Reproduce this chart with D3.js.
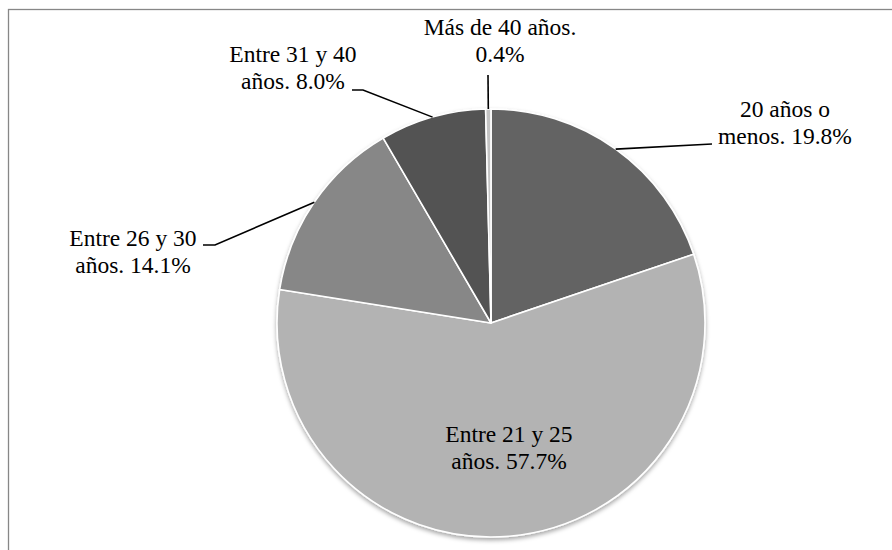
<!DOCTYPE html>
<html>
<head>
<meta charset="utf-8">
<script src="https://cdn.jsdelivr.net/npm/d3@7/dist/d3.min.js"></script>
<style>
  html, body { margin: 0; padding: 0; background: #fff; }
  svg { display: block; }
</style>
</head>
<body>
<svg id="chart" width="892" height="550"></svg>
<script>
// Age groups and their share (%)
const categories = ["20 años o menos", "Entre 21 y 25 años", "Entre 26 y 30 años", "Entre 31 y 40 años", "Más de 40 años"];
const shares = [19.8, 57.7, 14.1, 8.0, 0.4];
// Label text, split into two lines
const labelLines = [
  ["20 años o", "menos. 19.8%"],
  ["Entre 21 y 25", "años. 57.7%"],
  ["Entre 26 y 30", "años. 14.1%"],
  ["Entre 31 y 40", "años. 8.0%"],
  ["Más de 40 años.", "0.4%"]
];
const sliceColors = ["#646464", "#b3b3b3", "#878787", "#525252", "#c4c4c4"];

// Layout
const W = 892, H = 550;
const cx = 491, cy = 323, R = 214;
const fontSize = 23.5, lineGap = 27;
// label anchor (centre x, first baseline y), leader elbow, or null when placed inside the slice
const labelLayout = [
  { x: 785, y: 117, elbow: [[712, 144]] },
  { x: 509, y: 442, elbow: null },
  { x: 133, y: 246, elbow: [[215, 245], [203, 245]] },
  { x: 293, y: 62,  elbow: [[363, 90], [352, 90]] },
  { x: 500, y: 35,  elbow: [[488, 75]] }
];

const svg = d3.select("#chart");

// chart frame
svg.append("rect")
  .attr("x", 8.5).attr("y", 9.5)
  .attr("width", W + 20).attr("height", H + 20)
  .attr("fill", "none").attr("stroke", "#878787").attr("stroke-width", 1.3);

const defs = svg.append("defs");
const shadow = defs.append("filter").attr("id", "pieShadow")
  .attr("x", "-10%").attr("y", "-10%").attr("width", "120%").attr("height", "125%");
shadow.append("feDropShadow")
  .attr("dx", 0).attr("dy", 2.5).attr("stdDeviation", 2.2)
  .attr("flood-color", "#000").attr("flood-opacity", 0.35);

const pie = d3.pie().sort(null).value(d => d)(shares);
const arc = d3.arc().innerRadius(0).outerRadius(R);

const g = svg.append("g").attr("transform", `translate(${cx},${cy})`);

g.append("g").attr("filter", "url(#pieShadow)")
  .selectAll("path")
  .data(pie)
  .join("path")
  .attr("d", arc)
  .attr("fill", (d, i) => sliceColors[i])
  .attr("stroke", "#fff")
  .attr("stroke-width", 1.6)
  .attr("stroke-linejoin", "round");

// leader lines start at the middle of each slice's outer edge
pie.forEach((d, i) => {
  const L = labelLayout[i];
  if (!L.elbow) return;
  const a = (d.startAngle + d.endAngle) / 2;
  const start = [cx + R * Math.sin(a), cy - R * Math.cos(a)];
  const pts = [start].concat(L.elbow);
  svg.append("path")
    .attr("d", d3.line()(pts))
    .attr("fill", "none")
    .attr("stroke", "#000")
    .attr("stroke-width", 1.6);
});

// labels
labelLayout.forEach((L, i) => {
  const t = svg.append("text")
    .attr("text-anchor", "middle")
    .style("font-family", '"Liberation Serif"')
    .style("font-size", fontSize + "px")
    .style("fill", "#000");
  labelLines[i].forEach((line, k) => {
    t.append("tspan").attr("x", L.x).attr("y", L.y + k * lineGap).text(line);
  });
});
</script>
</body>
</html>
